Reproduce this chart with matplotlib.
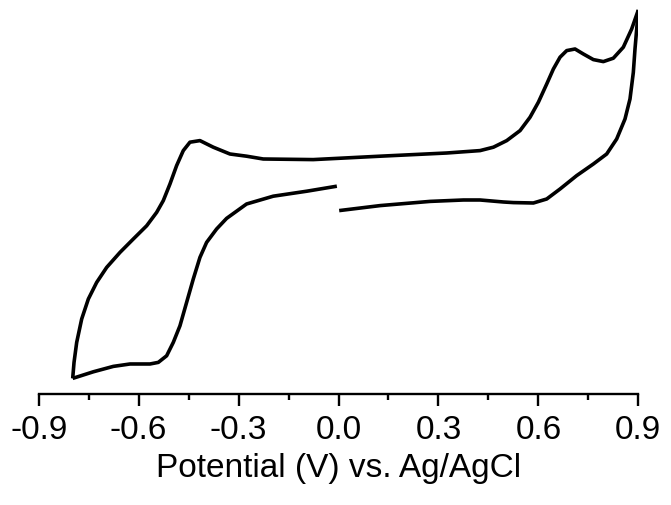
import matplotlib
matplotlib.use('Agg')
import matplotlib.pyplot as plt
from matplotlib.ticker import MultipleLocator

plt.rcParams['font.family'] = ['Liberation Sans', 'DejaVu Sans']

# cyclic voltammogram (current in arbitrary units)
# scan 1: from 0 V toward +0.9 V along the lower branch
e_fwd = [0.002, 0.125, 0.275, 0.375, 0.425, 0.495, 0.525, 0.585, 0.625, 0.665,
         0.715, 0.765, 0.805, 0.835, 0.860, 0.875, 0.885, 0.890, 0.900]
i_fwd = [-0.03, 0.22, 0.43, 0.50, 0.50, 0.40, 0.37, 0.35, 0.55, 1.05,
         1.72, 2.30, 2.80, 3.55, 4.55, 5.55, 6.88, 8.05, 10.0]

# scan 2: from +0.9 V back to -0.8 V along the upper branch
e_rev = [0.900, 0.880, 0.855, 0.825, 0.795, 0.765, 0.735, 0.710, 0.685, 0.665,
         0.645, 0.625, 0.600, 0.575, 0.545, 0.505, 0.465, 0.425, 0.325, 0.125,
         -0.076, -0.226, -0.276, -0.326, -0.376, -0.416, -0.446, -0.466, -0.486,
         -0.506, -0.526, -0.546, -0.576, -0.616, -0.656, -0.696, -0.726, -0.751,
         -0.771, -0.786, -0.794, -0.798]
i_rev = [10.0, 9.05, 8.14, 7.59, 7.42, 7.52, 7.80, 8.05, 7.97, 7.64,
         7.05, 6.30, 5.39, 4.64, 3.97, 3.47, 3.14, 2.97, 2.85, 2.69,
         2.52, 2.55, 2.69, 2.80, 3.14, 3.47, 3.39, 2.97, 2.22,
         1.30, 0.47, -0.12, -0.79, -1.45, -2.12, -2.87, -3.62, -4.45,
         -5.45, -6.62, -7.62, -8.42]

# scan 3: from -0.8 V back up to 0 V along the lower branch
e_ret = [-0.798, -0.736, -0.676, -0.626, -0.566, -0.541, -0.516, -0.496, -0.476,
         -0.456, -0.436, -0.416, -0.396, -0.366, -0.336, -0.276, -0.196, -0.095,
         -0.005]
i_ret = [-8.42, -8.09, -7.82, -7.70, -7.70, -7.62, -7.29, -6.62, -5.79,
         -4.62, -3.45, -2.37, -1.62, -0.95, -0.42, 0.30, 0.69, 0.94,
         1.19]

fig = plt.figure(figsize=(6.71, 5.06), dpi=100)
ax = fig.add_axes([0.0577, 0.2194, 0.8936, 0.7806])

lw = 2.6
for e, i in [(e_fwd, i_fwd), (e_rev, i_rev), (e_ret, i_ret)]:
    ax.plot(e, i, color='black', lw=lw, solid_capstyle='butt',
            solid_joinstyle='round')

ax.set_xlim(-0.9, 0.9)
ax.set_ylim(-9.2, 10.55)

for s in ['top', 'right', 'left']:
    ax.spines[s].set_visible(False)
ax.spines['bottom'].set_linewidth(1.7)
ax.spines['bottom'].set_clip_on(False)
ax.set_yticks([])

ax.set_xticks([-0.9, -0.6, -0.3, 0.0, 0.3, 0.6, 0.9])
ax.set_xticklabels(['-0.9', '-0.6', '-0.3', '0.0', '0.3', '0.6', '0.9'])
ax.xaxis.set_minor_locator(MultipleLocator(0.15))
ax.tick_params(axis='x', which='major', direction='out', length=8.5, width=1.7,
               labelsize=24, pad=6)
ax.tick_params(axis='x', which='minor', direction='out', length=4.5, width=1.7)

ax.set_xlabel('Potential (V) vs. Ag/AgCl', fontsize=24, labelpad=5)

fig.savefig('out.png', dpi=100)
